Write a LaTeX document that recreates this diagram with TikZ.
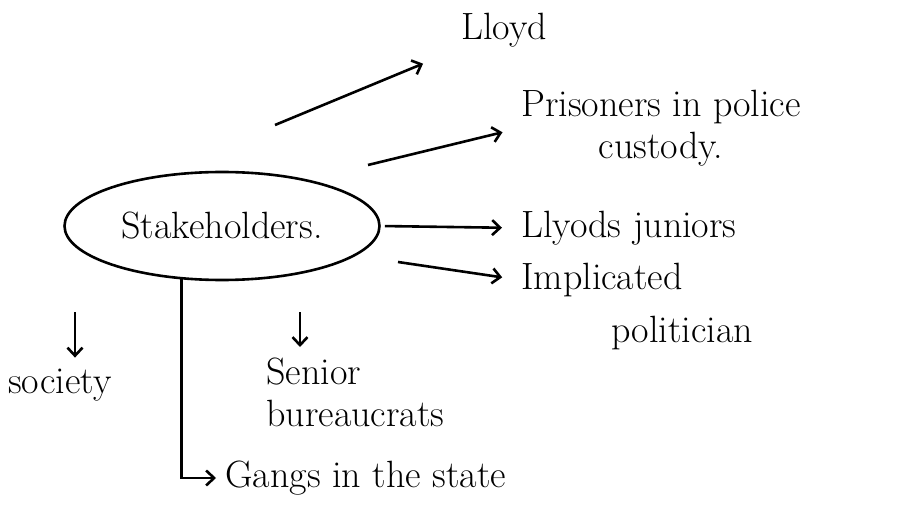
\documentclass[tikz,border=0pt]{standalone}
\usepackage{fontspec}
\usetikzlibrary{shapes.geometric, arrows.meta}
\begin{document}
\begin{tikzpicture} [x = 1pt, y = -1pt, line width = 2.6pt,
	>={Straight Barb[length = 8pt, width = 15pt]},
	every node/.style = {font = \fontsize{38}{42}\selectfont, inner sep = 0pt}]
	\useasboundingbox (0,0) rectangle (910,529);
	\node [draw, ellipse, minimum width = 315pt, minimum height = 108pt] (stake) at (222,226) {Stakeholders.};
	\node [anchor = west] (lloyd) at (460,30) {Lloyd};
	\node [anchor = west, align = center] (prisoners) at (520,128) {Prisoners in police\\custody.};
	\node [anchor = west] (juniors) at (520,228) {Llyods juniors};
	\node [anchor = west] (impl) at (520,280) {Implicated};
	\node [anchor = west] (polit) at (610,333) {politician};
	\node (society) at (60,385) {society};
	\node [anchor = north west, align = left] (senior) at (265,357) {Senior\\bureaucrats};
	\node [anchor = west] (gangs) at (224,478) {Gangs in the state};
	\coordinate (s1) at (275,125);
	\coordinate (s2) at (368,165);
	\coordinate (s4) at (398,262);
	\coordinate (s5) at (75,312);
	\coordinate (s7) at (300,312);
	\draw [->, shorten >= 40pt] (s1) -- (lloyd.south west);
	\draw [->, shorten >= 18pt] (s2) -- (prisoners.west);
	\draw [->, shorten <= 4pt, shorten >= 18pt] (stake.east) -- (juniors.west);
	\draw [->, shorten >= 18pt] (s4) -- (impl.west);
	\draw [->, shorten >= 10pt] (s5) -- (s5 |- society.north);
	\draw [->, shorten >= 10pt] (s7) -- (s7 |- senior.north);
	\draw [->, shorten >= 8pt] (stake.-127) |- (gangs.west);
\end{tikzpicture}
\end{document}
